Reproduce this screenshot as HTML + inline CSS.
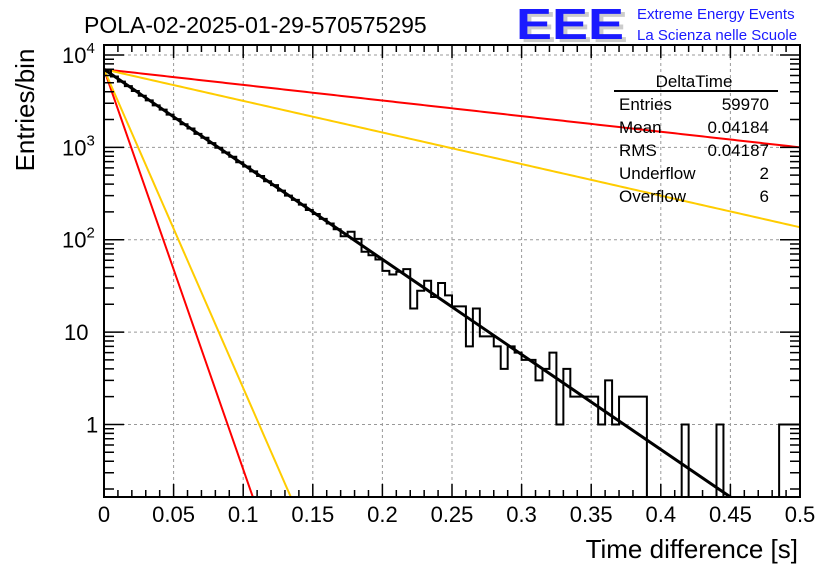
<!DOCTYPE html>
<html style="margin:0;padding:0;width:836px;height:572px;overflow:hidden"><head><meta charset="utf-8"><style>
html,body{margin:0;padding:0;background:#fff;width:836px;height:572px;overflow:hidden}
svg{display:block;position:absolute;left:0;top:0;font-family:"Liberation Sans",sans-serif}
</style></head><body>
<svg id="c" width="836" height="572" xmlns="http://www.w3.org/2000/svg">
<text x="84" y="33" font-size="23">POLA-02-2025-01-29-570575295</text>
<g>
<text x="520" y="42" font-size="44" font-weight="bold" fill="#ccc" textLength="108" lengthAdjust="spacingAndGlyphs">EEE</text>
<text x="516" y="39" font-size="44" font-weight="bold" fill="#1a1aff" textLength="108" lengthAdjust="spacingAndGlyphs">EEE</text>
<text x="637" y="19" font-size="15" fill="#1a1aff">Extreme Energy Events</text>
<text x="637" y="40" font-size="15" fill="#1a1aff">La Scienza nelle Scuole</text>
</g>
<text transform="translate(34,110) rotate(-90)" text-anchor="middle" font-size="26">Entries/bin</text>
<text x="798" y="558" text-anchor="end" font-size="26">Time difference [s]</text>
<g id="grid"></g><g id="curves"></g><g id="hist"></g><g id="axes"></g>
<g font-size="17">
<text x="694" y="87" text-anchor="middle">DeltaTime</text>
<line x1="614" y1="91" x2="778" y2="91" stroke="#000" stroke-width="2"/>
<text x="619" y="110">Entries</text><text x="769" y="110" text-anchor="end">59970</text>
<text x="619" y="133">Mean</text><text x="769" y="133" text-anchor="end">0.04184</text>
<text x="619" y="156">RMS</text><text x="769" y="156" text-anchor="end">0.04187</text>
<text x="619" y="179">Underflow</text><text x="769" y="179" text-anchor="end">2</text>
<text x="619" y="202">Overflow</text><text x="769" y="202" text-anchor="end">6</text>
</g>
</svg>
<script>
const binWidth = 0.005;
const counts = [6900,5850,5150,4600,4080,3620,3230,2850,2560,2260,2020,1780,1600,1400,1270,1110,990,880,790,690,620,550,490,430,390,340,300,270,240,210,190,168,150,130,109,122,102,74,68,61,46,42,45,48,18,28,36,24,34,25,19,19,7,18,9,9,7,4,7,6,5,5,3,4,6,1,4,2,2,2,2,1,3,1,2,2,2,2,0,0,0,0,0,1,0,0,0,0,1,0,0,0,0,0,0,0,0,1,1,1];
const curveAmp = [7000,7000,7000,7000,7000];
const curveSlope = [10.29,1.69,3.42,43.3,34.5];
const curveColor = ['#000','#f00','#fc0','#f00','#fc0'];
const curveName = ['fit-curve','red-slow-curve','orange-slow-curve','red-fast-curve','orange-fast-curve'];
const xTicks = [0,0.05,0.1,0.15,0.2,0.25,0.3,0.35,0.4,0.45,0.5];
const xTickLabels = ['0','0.05','0.1','0.15','0.2','0.25','0.3','0.35','0.4','0.45','0.5'];
const yDecades = [0,1,2,3,4];

const X0=104,X1=800,YT=45,YB=497;
const LMIN=-0.785,LMAX=4.108;
const sx=t=>X0+(X1-X0)*t/0.5;
const sy=v=>{const l=Math.log10(Math.max(v,1e-9));return YB-(YB-YT)*(l-LMIN)/(LMAX-LMIN);};
const NS='http://www.w3.org/2000/svg';
function mk(tag,attrs,parent){const e=document.createElementNS(NS,tag);for(const k in attrs)e.setAttribute(k,attrs[k]);parent.appendChild(e);return e;}
const grid=document.getElementById('grid'),axes=document.getElementById('axes'),hist=document.getElementById('hist'),curves=document.getElementById('curves');

xTicks.forEach((t,i)=>{
  if(i>0&&i<xTicks.length-1){const l=mk('line',{x1:sx(t),x2:sx(t),y1:YT,y2:YB,stroke:'#999','stroke-dasharray':'3,3'},grid);
  
  }
  const tx=mk('text',{x:sx(t),y:522,'text-anchor':'middle','font-size':'22'},axes);
  tx.textContent=xTickLabels[i];
  
  
});
yDecades.forEach(d=>{
  const v=Math.pow(10,d),y=sy(v);
  const l=mk('line',{x1:X0,x2:X1,y1:y,y2:y,stroke:'#999','stroke-dasharray':'3,3'},grid);
  
  
  const tx=mk('text',{x:d>=2?62:(d==1?64:86),y:y+8,'font-size':'22'},axes);
  if(d>=2){tx.textContent='10';const s=mk('tspan',{dy:'-10','font-size':'15'},tx);s.textContent=String(d);}
  else tx.textContent=d==1?'10':'1';
  
  
});
let tk='';
for(let i=0;i<=50;i++){const x=sx(i*0.01);const L=i%5==0?13:7;tk+=`M${x},${YB}v${-L}M${x},${YT}v${L}`;}
for(let d=-1;d<=4;d++)for(let m=1;m<=9;m++){const v=m*Math.pow(10,d);const y=sy(v);if(y<YT||y>YB)continue;const L=m==1?20:10;tk+=`M${X0},${y}h${L}M${X1},${y}h${-L}`;}
const tp=mk('path',{d:tk,stroke:'#000','stroke-width':'1.5',fill:'none'},axes);


const fr=mk('rect',{x:X0,y:YT,width:X1-X0,height:YB-YT,fill:'none',stroke:'#000','stroke-width':'2'},axes);



let d=`M${sx(0)},${YB}`;
counts.forEach((c,i)=>{const y=c>0?Math.min(sy(c),YB):YB;d+=`L${sx(i*binWidth)},${y}L${sx((i+1)*binWidth)},${y}`;});
d+=`L${sx(counts.length*binWidth)},${YB}`;
const hp=mk('path',{d:d,fill:'none',stroke:'#000','stroke-width':'2'},hist);



const cp=document.createElementNS(NS,'clipPath');cp.id='clp';mk('rect',{x:X0,y:YT,width:X1-X0,height:YB-YT},cp);curves.appendChild(cp);
[1,2,3,4,0].forEach(k=>{
  let p='';for(let j=0;j<=200;j++){const t=0.5*j/200;const v=curveAmp[k]*Math.pow(10,-curveSlope[k]*t);p+=(j?'L':'M')+sx(t)+','+sy(v);}
  const e=mk('path',{d:p,fill:'none',stroke:curveColor[k],'stroke-width':k==0?'3':'2','clip-path':'url(#clp)'},k==0?hist:curves);
  
  
});
</script>
</body></html>
